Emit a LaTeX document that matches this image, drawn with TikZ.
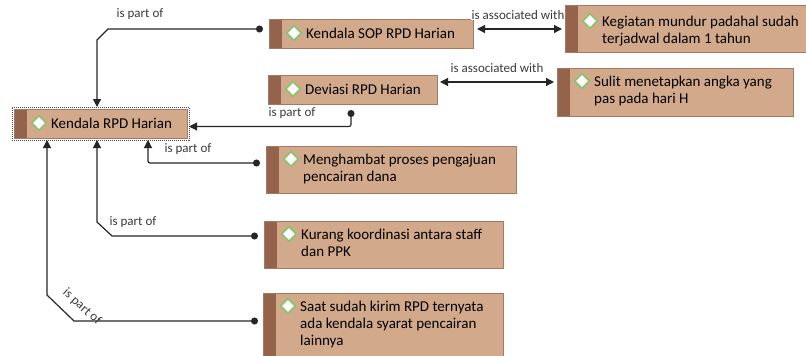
\documentclass[tikz,border=0pt]{standalone}
\usepackage{fontspec}
\setmainfont{Carlito}
\usetikzlibrary{arrows.meta,shapes.geometric,calc}
\definecolor{boxfill}{HTML}{D3A98B}
\definecolor{stripc}{HTML}{95624C}
\definecolor{borderc}{HTML}{A47A64}
\definecolor{diagreen}{HTML}{84C46A}
\definecolor{linec}{HTML}{262626}
\definecolor{labc}{HTML}{3A3A3A}
\tikzset{
  kbox/.style={rectangle, fill=boxfill, draw=borderc, line width=1pt, inner sep=0pt, outer sep=0pt},
  dia/.style={diamond, aspect=1, fill=white, draw=diagreen, line width=1.6pt, minimum size=15pt, inner sep=0pt},
  ktext/.style={inner sep=0pt, align=left, anchor=north west, text=black, font={\fontsize{15}{17}\selectfont}},
  lab/.style={inner sep=0pt, text=labc, font={\fontsize{13}{15}\selectfont}},
  conn/.style={draw=linec, line width=1.2pt},
  dotstart/.style={{Circle[length=7pt,width=7pt]}-{Triangle[length=8pt,width=8pt]}},
  both/.style={{Triangle[length=8pt,width=8pt]}-{Triangle[length=8pt,width=8pt]}},
}
\newcommand\ckbox[5]{%
  \node[kbox, minimum width={(#4-#2)*1pt}, minimum height={(#5-#3)*1pt}] (#1) at ({(#2+#4)/2},{(#3+#5)/2}) {};
  \fill[stripc] (#1.north west) rectangle ([xshift=13pt]#1.south west);
  \draw[borderc, line width=1pt] (#1.north west) rectangle (#1.south east);
}
\newcommand\ckcontent[4]{% name, x1, first baseline, text
  \node[dia] (#1d) at ({#2+25},{#3-5}) {};
  \node[ktext] (#1t) at ({#2+37},{#3-13}) {\rule{0pt}{13pt}#4};
}
\begin{document}
\begin{tikzpicture}[x=1pt,y=-1pt]
\useasboundingbox (0,0) rectangle (806,356);
\clip (0,0) rectangle (806,356);

% main node
\node[rectangle, draw=black!70, dash pattern=on 1pt off 1pt, line width=0.8pt, minimum width=177pt, minimum height=33pt, inner sep=0pt, outer sep=0pt] (rpd) at (100.5,123.5) {};
\ckbox{rpdbox}{14}{109}{187}{138}
\ckcontent{rpdc}{14}{128}{Kendala RPD Harian}

\ckbox{sop}{269}{19}{473}{48}
\ckcontent{sopc}{269}{38}{Kendala SOP RPD Harian}

\ckbox{keg}{565}{5}{830}{52}
\ckcontent{kegc}{565}{26}{Kegiatan mundur padahal sudah\\terjadwal dalam 1 tahun}

\ckbox{dev}{268}{75}{437}{104}
\ckcontent{devc}{268}{94}{Deviasi RPD Harian}

\ckbox{sul}{557}{68}{793}{116}
\ckcontent{sulc}{557}{86}{Sulit menetapkan angka yang\\pas pada hari H}

\ckbox{men}{266}{146}{516}{193}
\ckcontent{menc}{266}{164}{Menghambat proses pengajuan\\pencairan dana}

\ckbox{kur}{264}{221}{503}{268}
\ckcontent{kurc}{264}{239}{Kurang koordinasi antara staff\\dan PPK}

\ckbox{saat}{263}{293}{503}{370}
\ckcontent{saatc}{263}{311}{Saat sudah kirim RPD ternyata\\ada kendala syarat pencairan\\lainnya}

% is part of connectors
\draw[conn, dotstart] ($(sop.west)+(-6,-4.5)$) -- (108,29) -- (97,40) -- ($(rpd.north west)+(85,0)$);
\node[lab] (l1) at (140,14) {is part of};

\draw[conn, dotstart, rounded corners=2pt] ($(dev.south)+(-1.5,6)$) -- (351,126.5) -- ($(rpd.east)+(0,3)$);
\node[lab] (l2) at (292,113) {is part of};

\draw[conn, dotstart, rounded corners=2pt] ($(men.west)+(-6,-6.5)$) -- (148,163) -- ($(rpd.south west)+(136,0)$);
\node[lab] (l3) at (188,149.5) {is part of};

\draw[conn, dotstart] ($(kur.west)+(-6,-8.5)$) -- (112,236) -- (97,222) -- ($(rpd.south west)+(85,0)$);
\node[lab] (l4) at (133,222) {is part of};

\draw[conn, dotstart] ($(saat.west)+(-5,-10.5)$) -- (74,321) -- (47,295) -- ($(rpd.south west)+(35,0)$);
\node[lab, rotate=-42] (l5) at (82,307) {is part of};

% associations
\draw[conn, both] ($(sop.east)+(4,-4.5)$) -- ($(keg.west)+(-3,0.5)$);
\node[lab, fill=white, inner sep=0.5pt] (l6) at (518,15) {is associated with};

\draw[conn, both] ($(dev.east)+(3,-7.5)$) -- ($(sul.west)+(-3,-10)$);
\node[lab] (l7) at (497,68) {is associated with};
\end{tikzpicture}
\end{document}
